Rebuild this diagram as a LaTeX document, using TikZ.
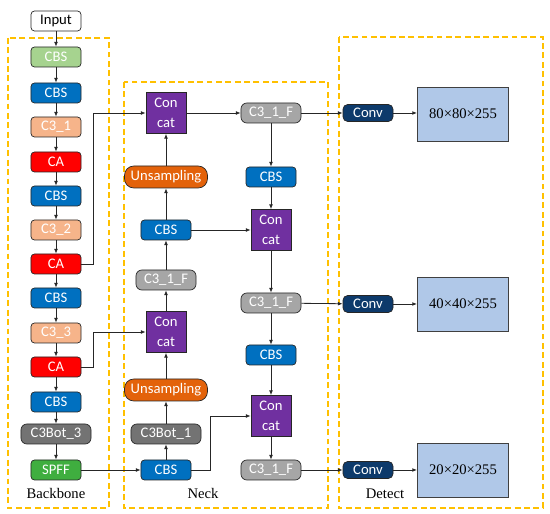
\documentclass[tikz,border=0pt]{standalone}
\usepackage{fontspec}
\setmainfont{Liberation Serif}
\newfontfamily\boxfont{Carlito}
\usetikzlibrary{arrows.meta}
\definecolor{cGreenL}{HTML}{A6D38F}
\definecolor{cBlue}{HTML}{0070C0}
\definecolor{cPeach}{HTML}{F6B48A}
\definecolor{cRed}{HTML}{FF0000}
\definecolor{cGrayD}{HTML}{737373}
\definecolor{cGrayL}{HTML}{A6A6A6}
\definecolor{cGreen}{HTML}{3FAE3F}
\definecolor{cPurple}{HTML}{7030A0}
\definecolor{cOrange}{HTML}{E3620A}
\definecolor{cNavy}{HTML}{0D3A6B}
\definecolor{cRes}{HTML}{B0C8E8}
\definecolor{cDash}{HTML}{FFC000}
\begin{document}
\begin{tikzpicture}[x=0.03cm,y=-0.03cm,
  blk/.style={draw=black!85, line width=0.6pt, rounded corners=3pt, minimum width=1.5cm, minimum height=0.6cm, inner sep=0pt, text=white, font=\boxfont\fontsize{12.5}{15}\selectfont},
  wide/.style={blk, minimum width=1.8cm},
  wider/.style={blk, minimum width=2.1cm},
  catbox/.style={draw=black!85, line width=0.6pt, fill=cPurple, minimum width=1.2cm, minimum height=1.23cm, inner sep=0pt, text=white, align=center, font=\boxfont\fontsize{12.5}{17}\selectfont},
  upbox/.style={blk, fill=cOrange, rounded corners=8pt, minimum width=2.49cm, minimum height=0.66cm},
  convbox/.style={blk, fill=cNavy, minimum height=0.51cm, rounded corners=4pt},
  resbox/.style={draw=black!75, line width=0.8pt, fill=cRes, minimum width=2.73cm, minimum height=1.62cm, inner sep=0pt, font=\fontsize{12.5}{15}\selectfont},
  region/.style={draw=cDash, line width=0.9pt, dash pattern=on 5pt off 3pt},
  lbl/.style={font=\fontsize{12.5}{15}\selectfont},
  arr/.style={draw=black!85, line width=0.7pt, -{Latex[length=4pt,width=3.2pt]}}
]
\useasboundingbox (0,0) rectangle (550,514);
% regions
\draw[region] (8,38) rectangle (109,508);
\draw[region] (124,82) rectangle (328,508);
\draw[region] (339,37) rectangle (543,508);
\node[lbl] (lb) at (56,493) {Backbone};
\node[lbl] (ln) at (203,493) {Neck};
\node[lbl] (ld) at (385,494) {Detect};
% backbone
\node[blk, fill=white, text=black] (in) at (56,21) {Input};
\node[blk, fill=cGreenL] (b1) at (56,57) {CBS};
\node[blk, fill=cBlue] (b2) at (56,93) {CBS};
\node[blk, fill=cPeach] (b3) at (56,127) {C3\_1};
\node[blk, fill=cRed] (b4) at (56,162) {CA};
\node[blk, fill=cBlue] (b5) at (56,196) {CBS};
\node[blk, fill=cPeach] (b6) at (56,230) {C3\_2};
\node[blk, fill=cRed] (b7) at (56,264) {CA};
\node[blk, fill=cBlue] (b8) at (56,298) {CBS};
\node[blk, fill=cPeach] (b9) at (56,333) {C3\_3};
\node[blk, fill=cRed] (b10) at (56,367) {CA};
\node[blk, fill=cBlue] (b11) at (56,402) {CBS};
\node[wider, fill=cGrayD, rounded corners=5pt] (b12) at (56,434) {C3Bot\_3};
\node[blk, fill=cGreen] (b13) at (56,470) {SPFF};
\foreach \a/\b in {in/b1,b1/b2,b2/b3,b3/b4,b4/b5,b5/b6,b6/b7,b7/b8,b8/b9,b9/b10,b10/b11,b11/b12,b12/b13}
  \draw[arr] (\a) -- (\b);
% neck left column
\node[catbox] (cat1) at (166,113) {Con\\cat};
\node[upbox] (up1) at (166,177) {Unsampling};
\node[blk, fill=cBlue] (nc1) at (166,230) {CBS};
\node[wide, fill=cGrayL, rounded corners=5pt] (f1) at (166,280) {C3\_1\_F};
\node[catbox] (cat2) at (166,332) {Con\\cat};
\node[upbox] (up2) at (166,390) {Unsampling};
\node[wider, fill=cGrayD, rounded corners=5pt] (bot1) at (166,434) {C3Bot\_1};
\node[blk, fill=cBlue] (nc2) at (166,470) {CBS};
% neck right column
\node[wide, fill=cGrayL, rounded corners=5pt] (f2) at (271,113) {C3\_1\_F};
\node[blk, fill=cBlue] (nc3) at (271,177) {CBS};
\node[catbox] (cat3) at (271,230) {Con\\cat};
\node[wide, fill=cGrayL, rounded corners=5pt] (f3) at (271,303) {C3\_1\_F};
\node[blk, fill=cBlue] (nc4) at (271,355) {CBS};
\node[catbox] (cat4) at (271,416) {Con\\cat};
\node[wide, fill=cGrayL, rounded corners=5pt] (f4) at (271,470) {C3\_1\_F};
% detect
\node[convbox] (cv1) at (368,113) {Conv};
\node[resbox] (r1) at (463,114) {80×80×255};
\node[convbox] (cv2) at (368,304) {Conv};
\node[resbox] (r2) at (463,304) {40×40×255};
\node[convbox] (cv3) at (368,470) {Conv};
\node[resbox] (r3) at (463,470) {20×20×255};
% neck connections
\draw[arr] (b7.east) -- ++(12,0) |- (cat1.west);
\draw[arr] (b10.east) -- ++(12,0) |- (cat2.west);
\draw[arr] (b13) -- (nc2);
\foreach \a/\b in {nc2/bot1,bot1/up2,up2/cat2,cat2/f1,f1/nc1,nc1/up1,up1/cat1}
  \draw[arr] (\a) -- (\b);
\draw[arr] (cat1) -- (f2);
\draw[arr] (nc1) -- (cat3);
\draw[arr] (nc2.east) -- ++(19,0) |- (cat4.west);
\foreach \a/\b in {f2/nc3,nc3/cat3,cat3/f3,f3/nc4,nc4/cat4,cat4/f4}
  \draw[arr] (\a) -- (\b);
\draw[arr] (f2) -- (cv1);
\draw[arr] (f3) -- (cv2);
\draw[arr] (f4) -- (cv3);
\draw[arr] (cv1) -- (cv1 -| r1.west);
\draw[arr] (cv2) -- (r2);
\draw[arr] (cv3) -- (r3);
\end{tikzpicture}
\end{document}
